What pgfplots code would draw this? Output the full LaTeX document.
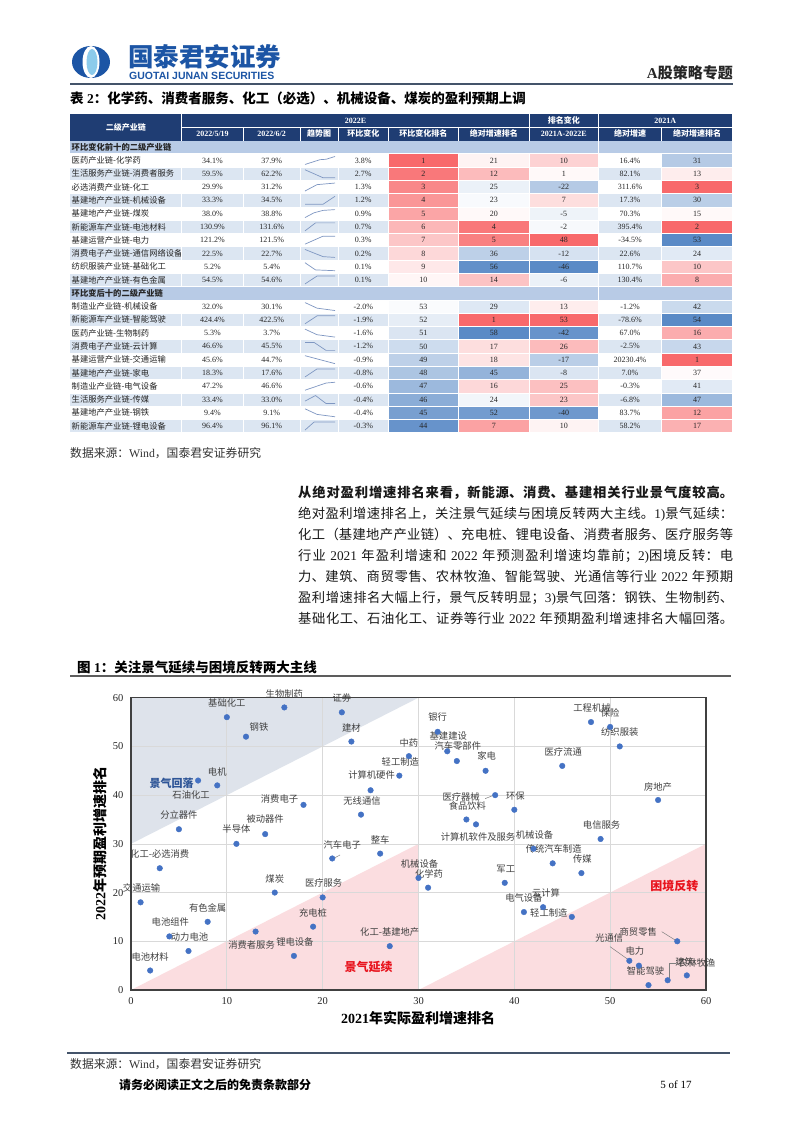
\documentclass[border=0pt]{standalone}
\usepackage{fontspec}
\setmainfont{Liberation Serif}
\setsansfont{Liberation Sans}
\newfontfamily\cjk{Noto Sans CJK SC}
\usepackage{pgfplots}
\pgfplotsset{compat=1.18}
\XeTeXlinebreaklocale "zh"
\XeTeXlinebreakskip=0pt plus 1.5pt

\definecolor{navy}{HTML}{1F3D73}
\definecolor{secblue}{HTML}{B8CBE6}
\definecolor{altrow}{HTML}{DCE6F2}
\definecolor{hr}{HTML}{F8696B}
\definecolor{hb}{HTML}{5A8AC6}
\definecolor{txt}{HTML}{262626}
\definecolor{dotblue}{HTML}{4472C4}
\definecolor{reggray}{HTML}{DEE3EB}
\definecolor{regpink}{HTML}{FBDDE0}
\definecolor{gridgray}{HTML}{D9D9D9}
\definecolor{axgray}{HTML}{404040}
\definecolor{logoblue}{HTML}{1C55A5}
\definecolor{logolight}{HTML}{8CCBEB}
\definecolor{sparkc}{HTML}{7F97C2}
\definecolor{lblc}{HTML}{404040}
\definecolor{rulec}{HTML}{44546A}
\definecolor{zonered}{HTML}{E8141E}
\definecolor{zoneblue}{HTML}{2E5597}

\newcommand\numf{\fontsize{8}{9}\selectfont}
\newcommand\tcj{\cjk\fontsize{8.3}{9}\selectfont}
\tikzset{
 num/.style={font=\numf, text=txt, inner sep=0pt},
 tl/.style={font=\tcj, text=txt, inner sep=0pt, anchor=west},
 hd/.style={font=\cjk\bfseries\fontsize{8}{9}\selectfont, text=white, inner sep=0pt},
 hdn/.style={font=\bfseries\fontsize{8}{9}\selectfont, text=white, inner sep=0pt},
 lbl/.style={font=\cjk\fontsize{9.3}{10}\selectfont, text=lblc, inner sep=0pt},
 ldr/.style={draw=gray, line width=0.5pt},
 spk/.style={draw=sparkc, line width=0.7pt, mark=none},
 grd/.style={draw=gridgray, line width=0.7pt, mark=none},
}
\newcommand\lb[5]{\node[lbl,xshift=#3pt,yshift=#4pt] at (axis cs:#1,#2) {#5};}

\begin{document}
\begin{tikzpicture}
\fill[white] (0,0) rectangle (802pt,1133pt);
\begin{scope}[x=1pt,y=-1pt,shift={(0pt,1133pt)}]
% ---------- page header ----------
\fill[logoblue] (91,62) ellipse [x radius=19pt, y radius=16pt];
\fill[white] (91,62) ellipse [x radius=8.5pt, y radius=16pt];
\fill[logolight] (92,62) ellipse [x radius=5.5pt, y radius=13pt];
\node[anchor=west, inner sep=0, font=\cjk\bfseries\fontsize{25.5}{26}\selectfont, text=logoblue] at (128,57) {国泰君安证券};
\node[anchor=west, inner sep=0, font=\sffamily\bfseries\fontsize{10.5}{11}\selectfont, text=logoblue] at (129,75.5) {GUOTAI JUNAN SECURITIES};
\node[anchor=east, inner sep=0, font=\bfseries\fontsize{15}{16}\selectfont, text=black!85] at (733,73) {A{\cjk 股策略专题}};
\draw[rulec, line width=1.5pt] (70,84) -- (733,84);
\node[anchor=west, inner sep=0, font=\bfseries\fontsize{13.5}{14}\selectfont, text=black] at (70,98) {{\cjk 表} 2{\cjk ：化学药、消费者服务、化工（必选）、机械设备、煤炭的盈利预期上调}};
% ---------- table header ----------
\fill[navy] (70,114) rectangle (732.3,140.56);
\draw[white, line width=0.8pt] (181.7,114) -- (181.7,140.56) (529.3,114) -- (529.3,140.56) (598.3,114) -- (598.3,140.56)
  (181.7,127.28) -- (732.3,127.28) (243.3,127.28) -- (243.3,140.56) (300,127.28) -- (300,140.56)
  (338.3,127.28) -- (338.3,140.56) (388.3,127.28) -- (388.3,140.56) (458.3,127.28) -- (458.3,140.56)
  (661.7,127.28) -- (661.7,140.56);
\node[hd] at (125.85,127.28) {二级产业链};
\node[hdn] at (355.5,120.64) {2022E};
\node[hd] at (563.8,120.64) {排名变化};
\node[hdn] at (665.3,120.64) {2021A};
\node[hdn] at (212.5,133.92) {2022/5/19};
\node[hdn] at (271.65,133.92) {2022/6/2};
\node[hd] at (319.15,133.92) {趋势图};
\node[hd] at (363.3,133.92) {环比变化};
\node[hd] at (423.3,133.92) {环比变化排名};
\node[hd] at (493.8,133.92) {绝对增速排名};
\node[hdn] at (563.8,133.92) {2021A-2022E};
\node[hd] at (630,133.92) {绝对增速};
\node[hd] at (697,133.92) {绝对增速排名};
% section rows
\fill[secblue] (70,140.56) rectangle (732.3,153.84);
\fill[secblue] (70,286.64) rectangle (732.3,299.92);
\draw[white, line width=0.8pt] (598.3,140.56) -- (598.3,153.84) (598.3,286.64) -- (598.3,299.92);
\node[tl, font=\cjk\bfseries\fontsize{8.3}{9}\selectfont] at (71.5,147.2) {环比变化前十的二级产业链};
\node[tl, font=\cjk\bfseries\fontsize{8.3}{9}\selectfont] at (71.5,293.28) {环比变后十的二级产业链};
% ---------- table body ----------
\foreach \j/\nm/\va/\vb/\vc/\vd/\ve/\vf/\vg/\vh/\bg/\cd/\ce/\cf/\ch in {
 3/医药产业链-化学药/34.1\%/37.9\%/3.8\%/1/21/10/16.4\%/31/white/hr!100!white/hr!8!white/hr!30!white/hb!45!white,
 4/生活服务产业链-消费者服务/59.5\%/62.2\%/2.7\%/2/12/1/82.1\%/13/altrow/hr!90!white/hr!45!white/hr!4!white/hr!12!white,
 5/必选消费产业链-化工/29.9\%/31.2\%/1.3\%/3/25/-22/311.6\%/3/white/hr!80!white/hb!12!white/hb!45!white/hr!100!white,
 6/基建地产产业链-机械设备/33.3\%/34.5\%/1.2\%/4/23/7/17.3\%/30/altrow/hr!70!white/hb!4!white/hr!22!white/hb!42!white,
 7/基建地产产业链-煤炭/38.0\%/38.8\%/0.9\%/5/20/-5/70.3\%/15/white/hr!60!white/hr!4!white/hb!10!white/hr!4!white,
 8/新能源车产业链-电池材料/130.9\%/131.6\%/0.7\%/6/4/-2/395.4\%/2/altrow/hr!48!white/hr!90!white/hb!5!white/hr!100!white,
 9/基建运营产业链-电力/121.2\%/121.5\%/0.3\%/7/5/48/-34.5\%/53/white/hr!38!white/hr!85!white/hr!100!white/hb!100!white,
 10/消费电子产业链-通信网络设备/22.5\%/22.7\%/0.2\%/8/36/-12/22.6\%/24/altrow/hr!26!white/hb!40!white/hb!25!white/hb!18!white,
 11/纺织服装产业链-基础化工/5.2\%/5.4\%/0.1\%/9/56/-46/110.7\%/10/white/hr!15!white/hb!95!white/hb!100!white/hr!38!white,
 12/基建地产产业链-有色金属/54.5\%/54.6\%/0.1\%/10/14/-6/130.4\%/8/altrow/hr!6!white/hr!40!white/hb!12!white/hr!55!white,
 14/制造业产业链-机械设备/32.0\%/30.1\%/-2.0\%/53/29/13/-1.2\%/42/white/hb!3!white/hb!20!white/hr!12!white/hb!32!white,
 15/新能源车产业链-智能驾驶/424.4\%/422.5\%/-1.9\%/52/1/53/-78.6\%/54/altrow/hb!15!white/hr!100!white/hr!100!white/hb!100!white,
 16/医药产业链-生物制药/5.3\%/3.7\%/-1.6\%/51/58/-42/67.0\%/16/white/hb!22!white/hb!100!white/hb!92!white/hr!55!white,
 17/消费电子产业链-云计算/46.6\%/45.5\%/-1.2\%/50/17/26/-2.5\%/43/altrow/hb!30!white/hr!22!white/hr!45!white/hb!34!white,
 18/基建运营产业链-交通运输/45.6\%/44.7\%/-0.9\%/49/18/-17/20230.4\%/1/white/hb!40!white/hr!18!white/hb!42!white/hr!100!white,
 19/基建地产产业链-家电/18.3\%/17.6\%/-0.8\%/48/45/-8/7.0\%/37/altrow/hb!50!white/hb!65!white/hb!22!white/hr!3!white,
 20/制造业产业链-电气设备/47.2\%/46.6\%/-0.6\%/47/16/25/-0.3\%/41/white/hb!60!white/hr!26!white/hr!42!white/hb!18!white,
 21/生活服务产业链-传媒/33.4\%/33.0\%/-0.4\%/46/24/23/-6.8\%/47/altrow/hb!70!white/hb!8!white/hr!38!white/hb!60!white,
 22/基建地产产业链-钢铁/9.4\%/9.1\%/-0.4\%/45/52/-40/83.7\%/12/white/hb!82!white/hb!85!white/hb!88!white/hr!62!white,
 23/新能源车产业链-锂电设备/96.4\%/96.1\%/-0.3\%/44/7/10/58.2\%/17/altrow/hb!92!white/hr!62!white/hr!8!white/hr!52!white}{
 \pgfmathsetmacro\yt{114+\j*13.28}
 \pgfmathsetmacro\yb{\yt+13.28}
 \pgfmathsetmacro\ym{\yt+6.64}
 \fill[fill=\bg] (70,\yt) rectangle (388.3,\yb);
 \fill[fill=\bg] (598.3,\yt) rectangle (661.7,\yb);
 \fill[fill=\cd] (388.3,\yt) rectangle (458.3,\yb);
 \fill[fill=\ce] (458.3,\yt) rectangle (529.3,\yb);
 \fill[fill=\cf] (529.3,\yt) rectangle (598.3,\yb);
 \fill[fill=\ch] (661.7,\yt) rectangle (732.3,\yb);
 \node[num] at (212.5,\ym) {\va};
 \node[num] at (271.65,\ym) {\vb};
 \node[num] at (363.3,\ym) {\vc};
 \node[num] at (423.3,\ym) {\vd};
 \node[num] at (493.8,\ym) {\ve};
 \node[num] at (563.8,\ym) {\vf};
 \node[num] at (630,\ym) {\vg};
 \node[num] at (697,\ym) {\vh};
 \begin{scope}
  \clip (70,\yt) rectangle (181.2,\yb);
  \node[tl] at (71.5,\ym) {\nm};
 \end{scope}
}
\foreach \xx in {181.7,243.3,300,338.3,388.3,458.3,529.3,598.3,661.7}
  \draw[white, line width=0.7pt] (\xx,153.84) -- (\xx,286.64) (\xx,299.92) -- (\xx,432.72);
\foreach \j in {3,...,24}
  \draw[white, line width=0.7pt] (70,{114+\j*13.28}) -- (732.3,{114+\j*13.28});
% ---------- source ----------
\node[anchor=west, inner sep=0, font=\fontsize{11.8}{12}\selectfont, text=black!80] at (70,453) {{\cjk 数据来源：}Wind{\cjk ，国泰君安证券研究}};
% ---------- paragraph ----------
\node[anchor=base west, inner sep=0, text=black!90] at (298,498) {\parbox[t]{435pt}{\fontsize{13.3}{21}\selectfont\parfillskip=0pt
{\cjk\bfseries 从绝对盈利增速排名来看，新能源、消费、基建相关行业景气度较高。}\linebreak
{\cjk 绝对盈利增速排名上，关注景气延续与困境反转两大主线。}1){\cjk 景气延续：}\linebreak
{\cjk 化工（基建地产产业链）、充电桩、锂电设备、消费者服务、医疗服务等}\linebreak
{\cjk 行业} 2021 {\cjk 年盈利增速和} 2022 {\cjk 年预测盈利增速均靠前；}2){\cjk 困境反转：电}\linebreak
{\cjk 力、建筑、商贸零售、农林牧渔、智能驾驶、光通信等行业} 2022 {\cjk 年预期}\linebreak
{\cjk 盈利增速排名大幅上行，景气反转明显；}3){\cjk 景气回落：钢铁、生物制药、}\linebreak
{\cjk 基础化工、石油化工、证券等行业} 2022 {\cjk 年预期盈利增速排名大幅回落。}\par}};
% ---------- figure title ----------
\node[anchor=west, inner sep=0, font=\bfseries\fontsize{13.5}{14}\selectfont, text=black] at (77,667) {{\cjk 图} 1{\cjk ：关注景气延续与困境反转两大主线}};
\draw[axgray!85, line width=1.2pt] (70,676) -- (731,676);
% axis labels
\node[inner sep=0, font=\bfseries\fontsize{14}{14}\selectfont, text=black] at (418,1018) {2021{\cjk 年实际盈利增速排名}};
\node[inner sep=0, rotate=90, font=\bfseries\fontsize{14}{14}\selectfont, text=black] at (100,844) {2022{\cjk 年预期盈利增速排名}};
% ---------- footer ----------
\draw[rulec, line width=1.5pt] (67,1053) -- (730,1053);
\node[anchor=west, inner sep=0, font=\fontsize{11.8}{12}\selectfont, text=black!80] at (70,1064) {{\cjk 数据来源：}Wind{\cjk ，国泰君安证券研究}};
\node[anchor=west, inner sep=0, font=\cjk\bfseries\fontsize{12}{12}\selectfont, text=black] at (119,1085) {请务必阅读正文之后的免责条款部分};
\node[inner sep=0, font=\fontsize{11}{12}\selectfont, text=black] at (676,1085) {5 of 17};
\end{scope}

% ---------- sparklines ----------
\begin{axis}[at={(305pt,700.28pt)}, anchor=south west, scale only axis,
  width=30pt, height=318.72pt, xmin=0, xmax=1, ymin=0, ymax=24, hide axis, clip=false]
\addplot[spk] coordinates {(0,20.2)(0.5,20.56)(0.7,20.59)(1,20.8)};
\addplot[spk] coordinates {(0,19.8)(0.6,19.2)(1,19.2)};
\addplot[spk] coordinates {(0,18.2)(0.4,18.68)(1,18.8)};
\addplot[spk] coordinates {(0,17.2)(0.6,17.2)(1,17.8)};
\addplot[spk] coordinates {(0,16.2)(0.3,16.56)(0.6,16.74)(1,16.8)};
\addplot[spk] coordinates {(0,15.2)(0.35,15.8)(1,15.8)};
\addplot[spk] coordinates {(0,14.2)(0.6,14.8)(1,14.8)};
\addplot[spk] coordinates {(0,13.8)(0.6,13.26)(1,13.2)};
\addplot[spk] coordinates {(0,12.8)(0.35,12.26)(1,12.2)};
\addplot[spk] coordinates {(0,11.2)(0.4,11.8)(1,11.8)};
\addplot[spk] coordinates {(0,9.8)(0.4,9.38)(1,9.2)};
\addplot[spk] coordinates {(0,8.2)(0.4,8.8)(1,8.8)};
\addplot[spk] coordinates {(0,7.8)(0.4,7.38)(1,7.2)};
\addplot[spk] coordinates {(0,6.8)(0.3,6.8)(0.7,6.2)(1,6.2)};
\addplot[spk] coordinates {(0,5.8)(0.5,5.5)(1,5.2)};
\addplot[spk] coordinates {(0,4.2)(0.4,4.8)(1,4.8)};
\addplot[spk] coordinates {(0,3.2)(0.7,3.74)(1,3.8)};
\addplot[spk] coordinates {(0,2.38)(0.35,2.8)(0.7,2.2)(1,2.2)};
\addplot[spk] coordinates {(0,1.8)(0.4,1.38)(1,1.2)};
\addplot[spk] coordinates {(0,0.2)(0.3,0.8)(1,0.8)};
\end{axis}

% ---------- scatter chart ----------
\begin{axis}[at={(131pt,143pt)}, anchor=south west, scale only axis,
  width=575pt, height=292.3pt,
  xmin=0, xmax=60, ymin=0, ymax=60,
  xtick={0,10,20,30,40,50,60}, ytick={0,10,20,30,40,50,60},
  axis line style={draw=axgray, line width=1.1pt},
  major tick length=0pt, tick style={draw=none},
  ticklabel style={font=\fontsize{10.5}{11}\selectfont, text=black!85},
  xticklabel style={yshift=-4pt}, yticklabel style={xshift=-4pt},
  /pgf/number format/assume math mode=true,
  axis on top, clip=false]
\addplot[fill=reggray, draw=none] coordinates {(0,30) (0,60) (30,60) (0,30)};
\addplot[fill=regpink, draw=none] coordinates {(0,0) (30,30) (30,0) (0,0)};
\addplot[fill=regpink, draw=none] coordinates {(30,0) (60,30) (60,0) (30,0)};
\addplot[grd] coordinates {(10,0) (10,60)};
\addplot[grd] coordinates {(20,0) (20,60)};
\addplot[grd] coordinates {(30,0) (30,60)};
\addplot[grd] coordinates {(40,0) (40,60)};
\addplot[grd] coordinates {(50,0) (50,60)};
\addplot[grd] coordinates {(0,10) (60,10)};
\addplot[grd] coordinates {(0,20) (60,20)};
\addplot[grd] coordinates {(0,30) (60,30)};
\addplot[grd] coordinates {(0,40) (60,40)};
\addplot[grd] coordinates {(0,50) (60,50)};
\addplot[only marks, mark=*, mark size=2.8pt, color=dotblue] table {
x y
1 18
2 4
3 25
4 11
5 33
6 8
7 43
8 14
9 42
10 56
11 30
12 52
13 12
14 32
15 20
16 58
17 7
18 38
19 13
20 19
21 27
22 57
23 51
24 36
25 41
26 28
27 9
28 44
29 48
30 23
31 21
32 53
33 49
34 47
35 35
36 34
37 45
38 40
39 22
40 37
41 16
42 29
43 17
44 26
45 46
46 15
47 24
48 55
49 31
50 54
51 50
52 6
53 5
54 1
55 39
56 2
57 10
58 3
};
\lb{1}{18}{1}{14}{交通运输}
\lb{2}{4}{0}{14}{电池材料}
\lb{3}{25}{0}{14}{化工-必选消费}
\lb{4}{11}{1}{14}{电池组件}
\lb{5}{33}{0}{14}{分立器件}
\lb{6}{8}{1}{14}{动力电池}
\lb{7}{43}{-7}{-14}{石油化工}
\lb{8}{14}{0}{14}{有色金属}
\lb{9}{42}{0}{13}{电机}
\lb{10}{56}{0}{14}{基础化工}
\lb{11}{30}{0}{15}{半导体}
\lb{12}{52}{13}{10}{钢铁}
\lb{13}{12}{-4}{-13}{消费者服务}
\lb{14}{32}{0}{15}{被动器件}
\lb{15}{20}{0}{14}{煤炭}
\lb{16}{58}{0}{13}{生物制药}
\lb{17}{7}{1}{14}{锂电设备}
\lb{18}{38}{-24}{6}{消费电子}
\lb{19}{13}{0}{14}{充电桩}
\lb{20}{19}{1}{14}{医疗服务}
\lb{21}{27}{10}{14}{汽车电子}
\lb{22}{57}{0}{14}{证券}
\lb{23}{51}{0}{14}{建材}
\lb{24}{36}{1}{14}{无线通信}
\lb{25}{41}{1}{15}{计算机硬件}
\lb{26}{28}{0}{14}{整车}
\lb{27}{9}{0}{14}{化工-基建地产}
\lb{28}{44}{1}{14}{轻工制造}
\lb{29}{48}{0}{13}{中药}
\lb{30}{23}{1}{14}{机械设备}
\lb{31}{21}{1}{14}{化学药}
\lb{32}{53}{0}{15}{银行}
\lb{33}{49}{1}{15}{基建建设}
\lb{34}{47}{1}{15}{汽车零部件}
\lb{35}{35}{1}{14}{食品饮料}
\lb{36}{34}{2}{-13}{计算机软件及服务}
\lb{37}{45}{1}{15}{家电}
\lb{38}{40}{-34}{-2}{医疗器械}
\lb{39}{22}{1}{14}{军工}
\lb{40}{37}{1}{14}{环保}
\lb{41}{16}{0}{14}{电气设备}
\lb{42}{29}{1}{14}{机械设备}
\lb{43}{17}{3}{14}{云计算}
\lb{44}{26}{1}{14}{传统汽车制造}
\lb{45}{46}{1}{14}{医疗流通}
\lb{46}{15}{-23}{4}{轻工制造}
\lb{47}{24}{1}{14}{传媒}
\lb{48}{55}{1}{14}{工程机械}
\lb{49}{31}{1}{14}{电信服务}
\lb{50}{54}{0}{14}{保险}
\lb{51}{50}{0}{14}{纺织服装}
\lb{52}{6}{-20}{23}{光通信}
\lb{53}{5}{-4}{15}{电力}
\lb{54}{1}{-3}{14}{智能驾驶}
\lb{55}{39}{0}{13}{房地产}
\lb{56}{2}{17}{18}{建筑}
\lb{57}{10}{-39}{9}{商贸零售}
\lb{58}{3}{10}{12}{农林牧渔}
\draw[ldr] ([xshift=7.8pt,yshift=3.5pt]axis cs:21,27) -- ([xshift=2.8pt,yshift=0.8pt]axis cs:21,27);
\draw[ldr] ([xshift=-10pt,yshift=-3.5pt]axis cs:38,40) -- ([xshift=-2.5pt,yshift=-0.5pt]axis cs:38,40);
\draw[ldr] ([xshift=-15.5pt,yshift=9.6pt]axis cs:57,10) -- ([xshift=-2.2pt,yshift=1.3pt]axis cs:57,10);
\draw[ldr] ([xshift=-19.3pt,yshift=14.1pt]axis cs:52,6) -- ([xshift=-2pt,yshift=1.8pt]axis cs:52,6);
\draw[ldr] ([xshift=1.7pt,yshift=2.5pt]axis cs:56,2) -- ([xshift=1.7pt,yshift=17pt]axis cs:56,2) -- ([xshift=8pt,yshift=17pt]axis cs:56,2);
\node[inner sep=0, font=\cjk\bfseries\fontsize{11}{11}\selectfont, text=zoneblue] at (axis cs:4.25,42.4) {景气回落};
\node[inner sep=0, font=\cjk\bfseries\fontsize{12}{12}\selectfont, text=zonered] at (axis cs:24.8,4.8) {景气延续};
\node[inner sep=0, font=\cjk\bfseries\fontsize{12}{12}\selectfont, text=zonered] at (axis cs:56.7,21.4) {困境反转};
\end{axis}
\pgfresetboundingbox
\path (0,0) rectangle (802pt,1133pt);
\end{tikzpicture}
\end{document}
